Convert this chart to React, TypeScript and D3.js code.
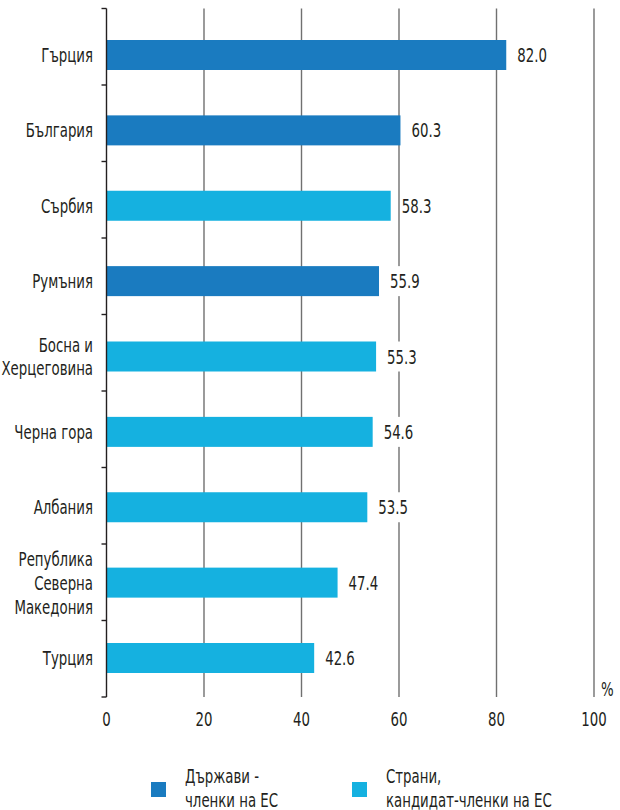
import React, { useEffect, useRef } from 'react';
import * as d3 from 'd3';

const countries = [
  ['Гърция'],
  ['България'],
  ['Сърбия'],
  ['Румъния'],
  ['Босна и', 'Херцеговина'],
  ['Черна гора'],
  ['Албания'],
  ['Република', 'Северна', 'Македония'],
  ['Турция'],
];
const values = [82.0, 60.3, 58.3, 55.9, 55.3, 54.6, 53.5, 47.4, 42.6];
const groups = ['eu', 'eu', 'cand', 'eu', 'cand', 'cand', 'cand', 'cand', 'cand'];
const xTicks = [0, 20, 40, 60, 80, 100];
const legendLabels = [
  ['Държави -', 'членки на ЕС'],
  ['Страни,', 'кандидат-членки на ЕС'],
];

const colors = { eu: '#1a7bc0', cand: '#15b1e0' };
const font = '"DejaVu Sans", sans-serif';

const App = () => {
  const ref = useRef(null);

  useEffect(() => {
    drawChart();
  }, []);

  // narrow text: condensed face squeezed a bit more horizontally
  function addText(parent, x, y, lines, anchor = 'start', lineH = 24) {
    const g = parent
      .append('g')
      .attr('transform', `translate(${x}, ${y}) scale(0.78, 1)`);
    const t = g
      .append('text')
      .attr('text-anchor', anchor)
      .style('font-family', font)
      .style('font-stretch', 'condensed')
      .style('font-size', '19px')
      .style('fill', '#231f20');
    lines.forEach((l, k) => {
      t.append('tspan').attr('x', 0).attr('y', k * lineH).text(l);
    });
    return t;
  }

  function drawChart() {
    const svg = d3.select(ref.current);
    svg.selectAll('*').remove();

    const x = d3.scaleLinear().domain([0, 100]).range([106.5, 594]);
    const idx = d3.range(countries.length);
    // bar centres
    const y = d3.scalePoint().domain(idx).range([55, 658]);
    // band borders for the axis ticks
    const yTick = d3.scaleLinear().domain([0, countries.length]).range([8.5, 697]);
    const barH = 30;

    // grid lines
    svg
      .selectAll('.grid')
      .data(xTicks.slice(1))
      .enter()
      .append('line')
      .attr('x1', (d) => x(d))
      .attr('x2', (d) => x(d))
      .attr('y1', 8.5)
      .attr('y2', 697)
      .style('stroke', '#707070')
      .style('stroke-width', 1.4);

    // bars
    svg
      .selectAll('.bar')
      .data(idx)
      .enter()
      .append('rect')
      .attr('x', x(0))
      .attr('y', (i) => y(i) - barH / 2)
      .attr('width', (i) => x(values[i]) - x(0))
      .attr('height', barH)
      .style('fill', (i) => colors[groups[i]]);

    // left axis
    svg
      .append('line')
      .attr('x1', x(0))
      .attr('x2', x(0))
      .attr('y1', 8.5)
      .attr('y2', 697)
      .style('stroke', '#231f20')
      .style('stroke-width', 1.4);
    svg
      .selectAll('.ytick')
      .data(d3.range(countries.length + 1))
      .enter()
      .append('line')
      .attr('x1', x(0) - 5)
      .attr('x2', x(0))
      .attr('y1', (i) => yTick(i))
      .attr('y2', (i) => yTick(i))
      .style('stroke', '#231f20')
      .style('stroke-width', 1.4);

    // category labels
    const lineH = 24;
    idx.forEach((i) => {
      const lines = countries[i];
      addText(svg, 93, y(i) + 7 - ((lines.length - 1) / 2) * lineH, lines, 'end', lineH);
    });

    // value labels, on a white box that hides the grid line behind them
    idx.forEach((i) => {
      const t = addText(svg, x(values[i]) + 11, y(i) + 7, [values[i].toFixed(1)]);
      const b = t.node().getBBox();
      d3.select(t.node().parentNode)
        .insert('rect', 'text')
        .attr('x', b.x - 2)
        .attr('y', -7 - barH / 2)
        .attr('width', b.width + 5)
        .attr('height', barH)
        .style('fill', '#fff');
    });

    // x tick labels
    xTicks.forEach((d) => {
      addText(svg, x(d), 726, [String(d)], 'middle');
    });

    addText(svg, 601, 696, ['%']);

    // legend
    const legendX = [151, 352];
    const keys = ['eu', 'cand'];
    keys.forEach((k, i) => {
      svg
        .append('rect')
        .attr('x', legendX[i])
        .attr('y', 782)
        .attr('width', 15)
        .attr('height', 15)
        .style('fill', colors[k]);
      addText(svg, legendX[i] + 34, 783, legendLabels[i], 'start', 24);
    });
  }

  return (
    <svg
      ref={ref}
      width={620}
      height={810}
      style={{ position: 'absolute', left: 0, top: 0, background: '#fff' }}
    />
  );
};

export default App;
